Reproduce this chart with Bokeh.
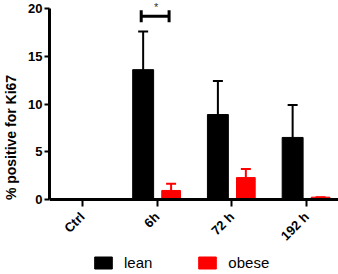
from bokeh.plotting import figure
from bokeh.models import (FactorRange, Range1d, ColumnDataSource, Whisker, TeeHead,
                          Legend, LegendItem, FixedTicker)
from bokeh.transform import dodge
from bokeh.core.properties import value
from bokeh.embed import file_html
from bokeh.resources import INLINE
import math

categories = ["Ctrl", "6h", "72 h", "192 h"]
lean_mean = [0.0, 13.6, 8.9, 6.5]
lean_err = [0.0, 4.0, 3.5, 3.4]
obese_mean = [0.0, 0.95, 2.3, 0.25]
obese_err = [0.0, 0.7, 0.9, 0.0]
sig_category = ["6h"]
sig_level = [19.2]
sig_label = ["*"]
sig_text_y = [20.2]

FONT = "Liberation Sans"

p = figure(frame_width=290, frame_height=274,
           x_range=FactorRange(factors=categories, range_padding=-0.03),
           y_range=Range1d(-7.85, 20.84), output_backend="svg", toolbar_location=None,
           min_border_top=0, min_border_left=45, min_border_right=3, min_border_bottom=0)
p.outline_line_color = None
p.grid.visible = False
p.background_fill_color = "white"
p.border_fill_color = "white"

src = ColumnDataSource(dict(
    cat=categories,
    lean=lean_mean,
    lean_top=[m + e for m, e in zip(lean_mean, lean_err)],
    obese=obese_mean,
    obese_top=[m + e for m, e in zip(obese_mean, obese_err)],
))

r_lean = p.vbar(x=dodge("cat", -0.187, range=p.x_range), top="lean", width=0.28,
                source=src, fill_color="black", line_color="black")
r_obese = p.vbar(x=dodge("cat", 0.187, range=p.x_range), top="obese", width=0.25,
                 source=src, fill_color="#ff0000", line_color="#ff0000")

wl = Whisker(base=dodge("cat", -0.187, range=p.x_range), lower="lean", upper="lean_top",
             source=src, line_color="black", line_width=2,
             upper_head=TeeHead(size=10, line_color="black", line_width=2), lower_head=None)
wo = Whisker(base=dodge("cat", 0.187, range=p.x_range), lower="obese", upper="obese_top",
             source=src, line_color="#ff0000", line_width=2,
             upper_head=TeeHead(size=10, line_color="#ff0000", line_width=2), lower_head=None)
p.add_layout(wl)
p.add_layout(wo)

sig = ColumnDataSource(dict(cat=sig_category, y=sig_level, ty=sig_text_y, t=sig_label))
br = Whisker(base="y", lower=dodge("cat", -0.213, range=p.x_range),
             upper=dodge("cat", 0.16, range=p.x_range), dimension="width", source=sig,
             line_color="black", line_width=3,
             upper_head=TeeHead(size=12, line_color="black", line_width=3),
             lower_head=TeeHead(size=12, line_color="black", line_width=3))
p.add_layout(br)
p.text(x=dodge("cat", -0.013, range=p.x_range), y="ty", text="t", source=sig,
       text_font=value(FONT), text_font_size="11px", text_align="center",
       text_baseline="middle", text_color="#333333")

# axes
for ax in (p.xaxis, p.yaxis):
    ax.axis_line_width = 3
    ax.axis_line_color = "black"
    ax.major_tick_line_color = "black"
    ax.major_tick_line_width = 2
    ax.major_tick_in = 0
    ax.minor_tick_line_color = None
    ax.major_label_text_font = FONT
    ax.major_label_text_font_style = "bold"
    ax.major_label_text_color = "black"

p.yaxis.bounds = (0, 20)
p.yaxis.ticker = FixedTicker(ticks=[0, 5, 10, 15, 20])
p.yaxis.major_tick_out = 5
p.yaxis.major_label_text_font_size = "13px"
p.yaxis.major_label_standoff = 2
p.yaxis.axis_label = "% positive for Ki67"
p.yaxis.axis_label_text_font = FONT
p.yaxis.axis_label_text_font_style = "bold"
p.yaxis.axis_label_text_font_size = "14px"
p.yaxis.axis_label_text_color = "black"
p.yaxis.axis_label_standoff = 6

p.xaxis.fixed_location = 0
p.xaxis.major_tick_out = 7
p.xaxis.major_label_orientation = math.pi / 4
p.xaxis.major_label_text_font_size = "13px"
p.xaxis.major_label_standoff = 8

legend = Legend(items=[LegendItem(label="lean", renderers=[r_lean]),
                       LegendItem(label="obese", renderers=[r_obese])],
                orientation="horizontal", location=(43, 3),
                glyph_width=22, glyph_height=15, spacing=44, label_standoff=10,
                label_text_font=FONT, label_text_font_size="15px",
                label_text_color="black", background_fill_alpha=0,
                border_line_color=None, padding=0, margin=0)
p.add_layout(legend)

open("out.html", "w").write(file_html(p, INLINE))
